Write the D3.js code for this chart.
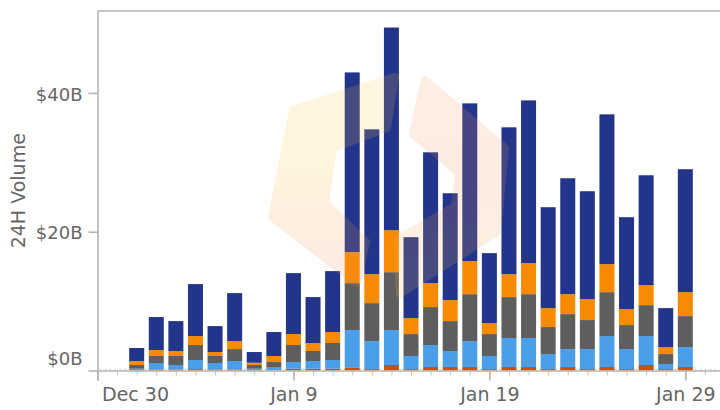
<!DOCTYPE html>
<html>
<head>
<meta charset="utf-8">
<script src="https://cdn.jsdelivr.net/npm/d3@7"></script>
<style>
  html, body { margin: 0; padding: 0; background: #fff; }
  svg { display: block; }
  text { font-family: "DejaVu Sans", Verdana, sans-serif; fill: #666; }
</style>
</head>
<body>
<svg id="chart" width="720" height="410"></svg>
<script>
// ---------------- data ----------------
const dates = [
  "2018-01-01","2018-01-02","2018-01-03","2018-01-04","2018-01-05","2018-01-06","2018-01-07",
  "2018-01-08","2018-01-09","2018-01-10","2018-01-11","2018-01-12","2018-01-13","2018-01-14",
  "2018-01-15","2018-01-16","2018-01-17","2018-01-18","2018-01-19","2018-01-20","2018-01-21",
  "2018-01-22","2018-01-23","2018-01-24","2018-01-25","2018-01-26","2018-01-27","2018-01-28",
  "2018-01-29"
];
// values in billions of USD, stacked bottom -> top
const seriesDarkOrange = [0.05,0.15,0.15,0.20,0.15,0.15,0.05,0.05,0.25,0.25,0.25,0.45,0.20,0.79,0.20,0.50,0.50,0.50,0.20,0.50,0.50,0.20,0.50,0.20,0.50,0.20,0.79,0.20,0.50];
const seriesBlue       = [0.21,0.93,0.64,1.31,0.93,1.22,0.21,0.45,0.97,1.12,1.26,5.38,4.04,5.04,1.89,3.17,2.31,3.74,1.89,4.18,4.18,2.17,2.59,2.89,4.46,2.89,4.17,0.74,2.88];
const seriesGray       = [0.53,1.01,1.30,2.16,1.01,1.72,0.53,0.72,2.45,1.44,2.45,6.76,5.47,8.34,3.16,5.47,4.31,6.76,3.16,5.90,6.32,3.89,5.04,4.18,6.33,3.46,4.46,1.43,4.46];
const seriesOrange     = [0.58,0.86,0.72,1.29,0.57,1.15,0.33,0.87,1.58,1.15,1.58,4.46,4.17,6.05,2.30,3.45,3.02,4.76,1.58,3.30,4.47,2.73,2.87,3.02,4.03,2.30,2.88,1.01,3.45];
const seriesNavy       = [1.87,4.75,4.31,7.49,3.74,6.91,1.54,3.45,8.78,6.62,8.78,25.90,20.87,29.20,11.66,18.85,15.40,22.73,10.08,21.16,23.45,14.54,16.70,15.54,21.59,13.24,15.83,5.61,17.71];

const seriesKeys   = ["darkOrange","blue","gray","orange","navy"];
const seriesColors = ["#c85200","#4a9eea","#5e5e5e","#f88a00","#22358a"];

const yTickValues = [0, 20, 40];
const yTickLabels = ["$0B", "$20B", "$40B"];
const xTickDates  = ["2017-12-30","2018-01-09","2018-01-19","2018-01-29"];
const xTickLabels = ["Dec 30", "Jan 9", "Jan 19", "Jan 29"];
const yTitle = "24H Volume";

// ---------------- layout ----------------
const plotLeft = 97.5, plotRight = 720, plotTop = 11, plotBottom = 370.5;
const dayMs = 86400000;
const xStart = new Date("2017-12-30T00:00:00Z");
const xEnd = new Date(xStart.getTime() + 31.77 * dayMs);
const yMax = 51.8;

const svg = d3.select("#chart");
const x = d3.scaleUtc().domain([xStart, xEnd]).range([plotLeft, plotRight]);
const y = d3.scaleLinear().domain([0, yMax]).range([plotBottom, plotTop]);

const table = dates.map((d, i) => ({
  date: new Date(d + "T00:00:00Z"),
  darkOrange: seriesDarkOrange[i], blue: seriesBlue[i], gray: seriesGray[i],
  orange: seriesOrange[i], navy: seriesNavy[i]
}));
const stacked = d3.stack().keys(seriesKeys)(table);

// watermark gradients
const defs = svg.append("defs");
const g1 = defs.append("linearGradient").attr("id","wmA").attr("gradientUnits","userSpaceOnUse")
  .attr("x1",0).attr("y1",80).attr("x2",0).attr("y2",290);
g1.append("stop").attr("offset","0").attr("stop-color","#ffbf45");
g1.append("stop").attr("offset","0.45").attr("stop-color","#ffbf45");
g1.append("stop").attr("offset","1").attr("stop-color","#f4845a");
const g2 = defs.append("linearGradient").attr("id","wmB").attr("gradientUnits","userSpaceOnUse")
  .attr("x1",0).attr("y1",80).attr("x2",0).attr("y2",295);
g2.append("stop").attr("offset","0").attr("stop-color","#f7a060");
g2.append("stop").attr("offset","0.5").attr("stop-color","#f4905a");
g2.append("stop").attr("offset","1").attr("stop-color","#ffc44e");

// top border
svg.append("line")
  .attr("x1", plotLeft).attr("x2", plotRight).attr("y1", plotTop).attr("y2", plotTop)
  .attr("stroke", "#b4b4b4").attr("stroke-width", 1.6);

// dotted baseline
svg.append("line")
  .attr("x1", plotLeft + 2).attr("x2", plotRight).attr("y1", y(0) - 1.2).attr("y2", y(0) - 1.2)
  .attr("stroke", "#cfcfcf").attr("stroke-width", 1).attr("stroke-dasharray", "2,3");

// bars
const barW = 15;
svg.append("g").selectAll("g").data(stacked).join("g")
  .attr("fill", (d, i) => seriesColors[i])
  .selectAll("rect").data(d => d).join("rect")
  .attr("x", d => x(d.data.date) - barW / 2)
  .attr("width", barW)
  .attr("y", d => y(d[1]))
  .attr("height", d => Math.max(0, y(d[0]) - y(d[1])));

// watermark logo (decorative)
const wm = svg.append("g").attr("opacity", 0.17);
const lineGen = d3.line().curve(d3.curveLinearClosed);
const leftShape = [[395,77],[293,110],[272,217],[357,283],[366,242],[325,203],[333,148],[387,128]];
const rightShape = [[425,80],[505,148],[497,232],[400,294],[397,240],[455,206],[459,173],[413,134]];
wm.append("path").attr("d", lineGen(leftShape)).attr("fill","url(#wmA)")
  .attr("stroke","url(#wmA)").attr("stroke-width",8).attr("stroke-linejoin","round");
wm.append("path").attr("d", lineGen(rightShape)).attr("fill","url(#wmB)")
  .attr("stroke","url(#wmB)").attr("stroke-width",8).attr("stroke-linejoin","round");

// x axis: minor ticks
const minorAxis = d3.axisBottom(x)
  .ticks(d3.utcDay.every(1))
  .tickSize(5).tickFormat("");
const gxm = svg.append("g").attr("transform", `translate(0,${plotBottom})`).call(minorAxis);
gxm.select(".domain").remove();
gxm.selectAll(".tick line").attr("stroke", "#c4c4c4").attr("stroke-width", 1);

// x axis: major ticks
const majorDates = xTickDates.map(s => new Date(s + "T00:00:00Z"));
const majorAxis = d3.axisBottom(x)
  .tickValues(majorDates)
  .tickSize(10).tickPadding(8)
  .tickFormat((d, i) => xTickLabels[i]);
const gx = svg.append("g").attr("transform", `translate(0,${plotBottom})`).call(majorAxis);
gx.select(".domain").attr("d", `M${plotLeft},0.5H${plotRight}`).attr("stroke", "#b4b4b4").attr("stroke-width", 1.6);
gx.selectAll(".tick line").attr("stroke", "#b4b4b4").attr("stroke-width", 1.6);
gx.selectAll(".tick text")
  .style("font-size", "19px").attr("fill", "#666")
  .attr("y", 17).attr("dy", "0.71em");
gx.selectAll(".tick text").filter((d, i) => i === 0)
  .attr("text-anchor", "start").attr("x", 4);

// y axis
const yAxis = d3.axisLeft(y)
  .tickValues(yTickValues)
  .tickSize(9).tickPadding(6)
  .tickFormat((d, i) => yTickLabels[i]);
const gy = svg.append("g").attr("transform", `translate(${plotLeft},0)`).call(yAxis);
gy.select(".domain").attr("d", `M0.5,${plotTop}V${plotBottom + 10}`).attr("stroke", "#b4b4b4").attr("stroke-width", 1.6);
gy.selectAll(".tick line").attr("stroke", "#b4b4b4").attr("stroke-width", 1.6);
gy.selectAll(".tick text").style("font-size", "18px").attr("fill", "#666").attr("dy", "0.4em");
gy.selectAll(".tick text").filter(d => d === 0).attr("dy", "-0.32em");

// y title
svg.append("text")
  .attr("transform", `translate(25,${(plotTop + plotBottom) / 2}) rotate(-90)`)
  .attr("text-anchor", "middle")
  .style("font-size", "19px")
  .text(yTitle);
</script>
</body>
</html>
